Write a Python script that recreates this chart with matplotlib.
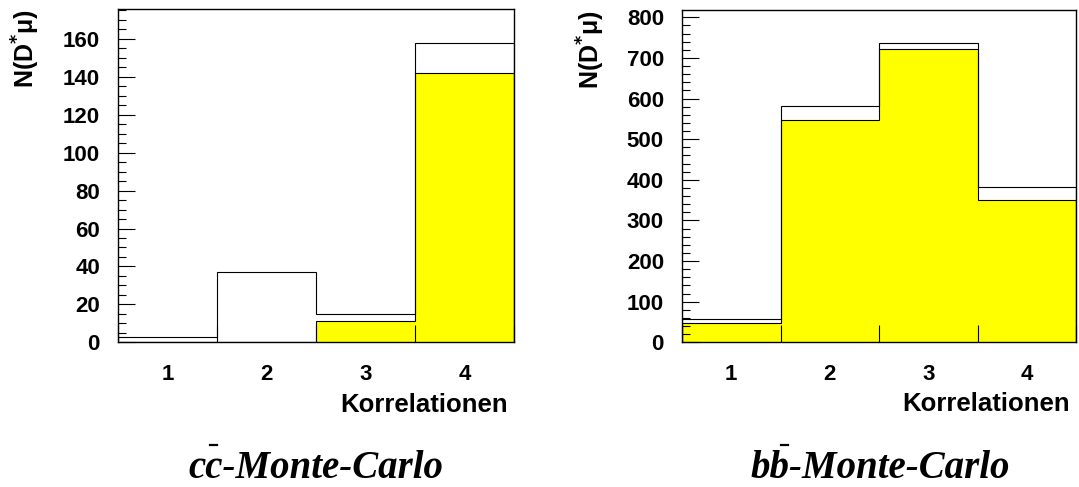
import numpy as np
import matplotlib
matplotlib.use("Agg")
import matplotlib.pyplot as plt
from matplotlib.lines import Line2D
from matplotlib.ticker import MultipleLocator, FixedLocator, NullFormatter

# Data (per correlation class 1..4)
categories = [1, 2, 3, 4]
cc_total = [3, 37, 15, 158]
cc_signal = [0, 0, 11, 142]
bb_total = [57, 582, 737, 382]
bb_signal = [47, 548, 721, 351]

plt.rcParams['font.family'] = ['Liberation Sans', 'DejaVu Sans']
plt.rcParams['font.weight'] = 'bold'

W, H = 1079, 487
fig = plt.figure(figsize=(W / 100, H / 100), dpi=100)


def make_axes(left_px, right_px, top_px, bottom_px):
    return fig.add_axes([left_px / W, 1 - bottom_px / H,
                         (right_px - left_px) / W, (bottom_px - top_px) / H])


def draw_hist(ax, total, signal, ymax, major, minor):
    edges = np.arange(len(categories) + 1) + 0.5
    ax.stairs(signal, edges, fill=True, facecolor='#ffff00',
              edgecolor='black', linewidth=0.8, zorder=1)
    ax.stairs(total, edges, color='black', linewidth=0.8, zorder=2)
    ax.set_axisbelow(False)

    ax.set_xlim(edges[0], edges[-1])
    ax.set_ylim(0, ymax)

    # ROOT-like ticks: bin edges as major ticks, labels on bin centres
    ax.xaxis.set_major_locator(FixedLocator(edges))
    ax.xaxis.set_major_formatter(NullFormatter())
    ax.xaxis.set_minor_locator(FixedLocator(categories))
    ax.set_xticklabels([str(c) for c in categories], minor=True)
    ax.tick_params(axis='x', which='major', direction='in', length=12, width=0.8)
    ax.tick_params(axis='x', which='minor', length=0, pad=15.5, labelsize=16)

    ax.yaxis.set_major_locator(MultipleLocator(major))
    ax.yaxis.set_minor_locator(MultipleLocator(minor))
    ax.tick_params(axis='y', which='major', direction='in', length=12, width=0.8,
                   pad=13, labelsize=16)
    ax.tick_params(axis='y', which='minor', direction='in', length=6, width=0.8)
    for lab in ax.get_xticklabels(minor=True) + ax.get_yticklabels():
        lab.set_fontweight('bold')

    for sp in ax.spines.values():
        sp.set_linewidth(1.0)

    ax.text(-92 / 396, 1.0, r'N(D$^{*}$μ)', rotation=90, ha='center', va='top',
            fontsize=18, fontweight='bold', transform=ax.transAxes)
    ax.text(0.985, -0.208, 'Korrelationen', ha='right', va='baseline',
            fontsize=18.5, fontweight='bold', transform=ax.transAxes)


def add_title(text, x_px, bar_offset_em):
    fs = 28
    t = fig.text(x_px / W, 0.0185, text, ha='center', va='baseline', fontsize=fs,
                 family=['Liberation Serif', 'DejaVu Serif'], style='italic',
                 weight='bold')
    fig.canvas.draw()
    bb = t.get_window_extent()
    # overbar on the antiquark letter, drawn as a short dash
    em = fs * 100 / 72
    xc = bb.x0 + bar_offset_em * em
    y = H - 445
    fig.add_artist(Line2D([(xc - 3.5) / W, (xc + 3.5) / W], [y / H, y / H],
                          transform=fig.transFigure, color='black', lw=1.6))


ax1 = make_axes(118, 514, 9.3, 342.3)
ax2 = make_axes(682, 1076, 10, 342.3)

draw_hist(ax1, cc_total, cc_signal, 175.6, 20, 5)
draw_hist(ax2, bb_total, bb_signal, 818, 100, 20)

add_title('cc-Monte-Carlo', 316, 0.64)
add_title('bb-Monte-Carlo', 880, 0.87)

fig.savefig('out.png', dpi=100)
